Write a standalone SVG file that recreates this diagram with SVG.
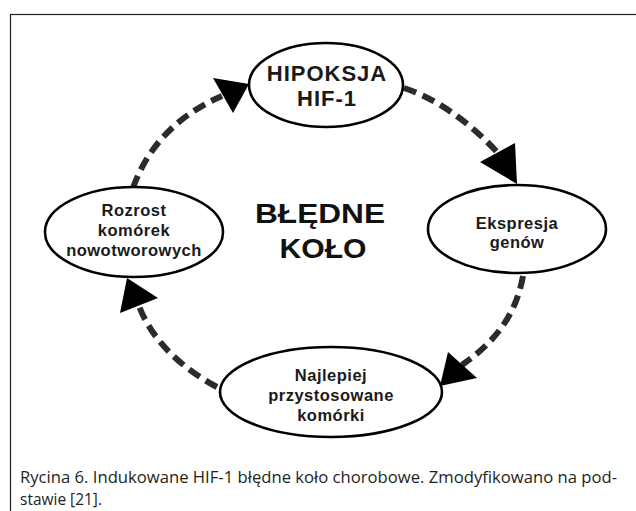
<svg xmlns="http://www.w3.org/2000/svg" width="636" height="511" viewBox="0 0 636 511">
<style>
.node ellipse{fill:#fff;stroke:#000;stroke-width:2.6}
.node text{font-family:"Liberation Sans",Arial,sans-serif;font-weight:bold;font-size:16.5px;letter-spacing:0.5px;fill:#1a1a1a;text-anchor:middle}
.conn path{fill:none;stroke:#2b2b2b;stroke-width:6;stroke-dasharray:13 7}
.conn polygon{fill:#000}
.title{font-family:"Liberation Sans",Arial,sans-serif;font-weight:bold;font-size:27px;fill:#111;text-anchor:middle}
.cap{font-family:"Open Sans","Noto Sans",sans-serif;font-size:17px;fill:#231f20}
</style>
<rect x="0" y="0" width="636" height="511" fill="#fff"/>
<rect x="10.5" y="14.5" width="700" height="600" fill="none" stroke="#231f20" stroke-width="1.2"/>
<g id="connectors" class="conn">
<path d="M133,188 C148,145 180,114 222,96"/>
<polygon points="213,78 233,113 249,84"/>
<path d="M404,88 C440,100 472,125 497,152"/>
<polygon points="480,162 515,143 517,184"/>
<path d="M523,276 C516,315 495,342 462,365"/>
<polygon points="448,352 477,378 440,386"/>
<path d="M217,387 C185,370 153,343 139,306"/>
<polygon points="120,313 158,298 127,278"/>
</g>
<g id="hipoksja" class="node">
<ellipse cx="326" cy="85" rx="77" ry="42"/>
<text x="327" y="81" style="font-size:22px;letter-spacing:1px">HIPOKSJA</text>
<text x="327" y="106" style="font-size:22px;letter-spacing:1px">HIF-1</text>
</g>
<g id="ekspresja" class="node">
<ellipse cx="517" cy="229" rx="89" ry="44"/>
<text x="517" y="229">Ekspresja</text>
<text x="517" y="248">genów</text>
</g>
<g id="najlepiej" class="node">
<ellipse cx="331" cy="392" rx="111" ry="45"/>
<text x="331" y="381">Najlepiej</text>
<text x="331" y="401">przystosowane</text>
<text x="331" y="421">komórki</text>
</g>
<g id="rozrost" class="node">
<ellipse cx="134" cy="232" rx="89" ry="45"/>
<text x="134" y="216">Rozrost</text>
<text x="134" y="236">komórek</text>
<text x="134" y="256">nowotworowych</text>
</g>
<g id="label">
<text class="title" x="320" y="223" textLength="130" lengthAdjust="spacingAndGlyphs">BŁĘDNE</text>
<text class="title" x="323" y="258" textLength="87" lengthAdjust="spacingAndGlyphs">KOŁO</text>
</g>
<text class="cap" x="20" y="483" textLength="597" lengthAdjust="spacingAndGlyphs">Rycina 6. Indukowane HIF-1 błędne koło chorobowe. Zmodyfikowano na pod-</text>
<text class="cap" x="20" y="505" textLength="82" lengthAdjust="spacingAndGlyphs">stawie [21].</text>
</svg>
